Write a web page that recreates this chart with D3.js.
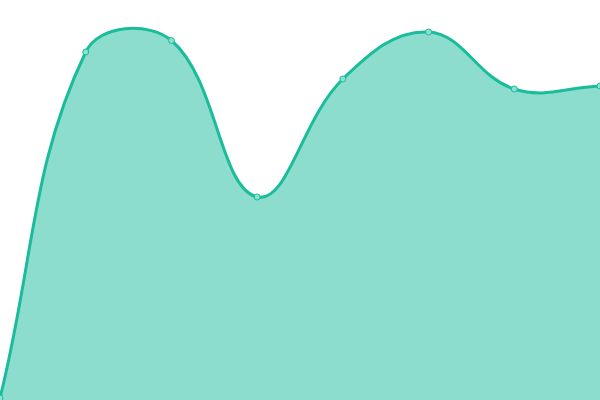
<!DOCTYPE html>
<html>
<head>
  <meta charset="UTF-8">
  <title>Area Chart</title>
  <script src="https://d3js.org/d3.v7.min.js"></script>
  <style>
    body { margin: 0; background: #fff; }
    .area { fill: #1abc9c; fill-opacity: 0.5; }
    .line { fill: none; stroke: #1abc9c; stroke-width: 3; }
    .dot { fill: #8be0cf; stroke: #1abc9c; stroke-width: 1; }
  </style>
</head>
<body>
  <div id="chart"></div>
  <script>
    const categories = ["A", "B", "C", "D", "E", "F", "G", "H"];
    const values = [2, 348, 359.5, 203, 321, 368, 311, 314];

    const width = 600, height = 400;
    const tension = 0.4;

    // spline curve with distance weighted control points, capped to the plot box
    function SplineCurve(context) { this._context = context; }
    SplineCurve.prototype = {
      areaStart() { this._line = 0; },
      areaEnd() { this._line = NaN; },
      lineStart() { this._pts = []; },
      point(x, y) { this._pts.push([+x, +y]); },
      lineEnd() {
        const p = this._pts, n = p.length, c = this._context;
        const cap = (v, lo, hi) => Math.max(lo, Math.min(hi, v));
        if (n) {
          this._line ? c.lineTo(p[0][0], p[0][1]) : c.moveTo(p[0][0], p[0][1]);
          const cps = p.map((cur, i) => {
            const prev = p[i - 1] || cur, next = p[i + 1] || cur;
            const d01 = Math.hypot(cur[0] - prev[0], cur[1] - prev[1]);
            const d12 = Math.hypot(next[0] - cur[0], next[1] - cur[1]);
            let s01 = d01 / (d01 + d12), s12 = d12 / (d01 + d12);
            if (isNaN(s01)) s01 = 0;
            if (isNaN(s12)) s12 = 0;
            const fa = tension * s01, fb = tension * s12;
            const dx = next[0] - prev[0], dy = next[1] - prev[1];
            return {
              prev: [cap(cur[0] - fa * dx, 0, width), cap(cur[1] - fa * dy, 0, height)],
              next: [cap(cur[0] + fb * dx, 0, width), cap(cur[1] + fb * dy, 0, height)]
            };
          });
          for (let i = 1; i < n; i++) {
            c.bezierCurveTo(cps[i - 1].next[0], cps[i - 1].next[1],
              cps[i].prev[0], cps[i].prev[1], p[i][0], p[i][1]);
          }
        }
        if (this._line || (this._line !== 0 && n === 1)) c.closePath();
        this._line = 1 - this._line;
      }
    };
    const curve = context => new SplineCurve(context);

    const xScale = d3.scalePoint()
      .domain(categories)
      .range([0, width]);

    const yScale = d3.scaleLinear()
      .domain([0, 400])
      .range([height, 0]);

    const data = categories.map((c, i) => ({ cat: c, value: values[i] }));

    const svg = d3.select("#chart")
      .append("svg")
      .attr("width", width)
      .attr("height", height);

    const area = d3.area()
      .x(d => xScale(d.cat))
      .y0(height)
      .y1(d => yScale(d.value))
      .curve(curve);

    const line = d3.line()
      .x(d => xScale(d.cat))
      .y(d => yScale(d.value))
      .curve(curve);

    svg.append("path").datum(data).attr("class", "area").attr("d", area);
    svg.append("path").datum(data).attr("class", "line").attr("d", line);

    svg.selectAll(".dot")
      .data(data)
      .enter()
      .append("circle")
      .attr("class", "dot")
      .attr("cx", d => xScale(d.cat))
      .attr("cy", d => yScale(d.value))
      .attr("r", 3);
  </script>
</body>
</html>
